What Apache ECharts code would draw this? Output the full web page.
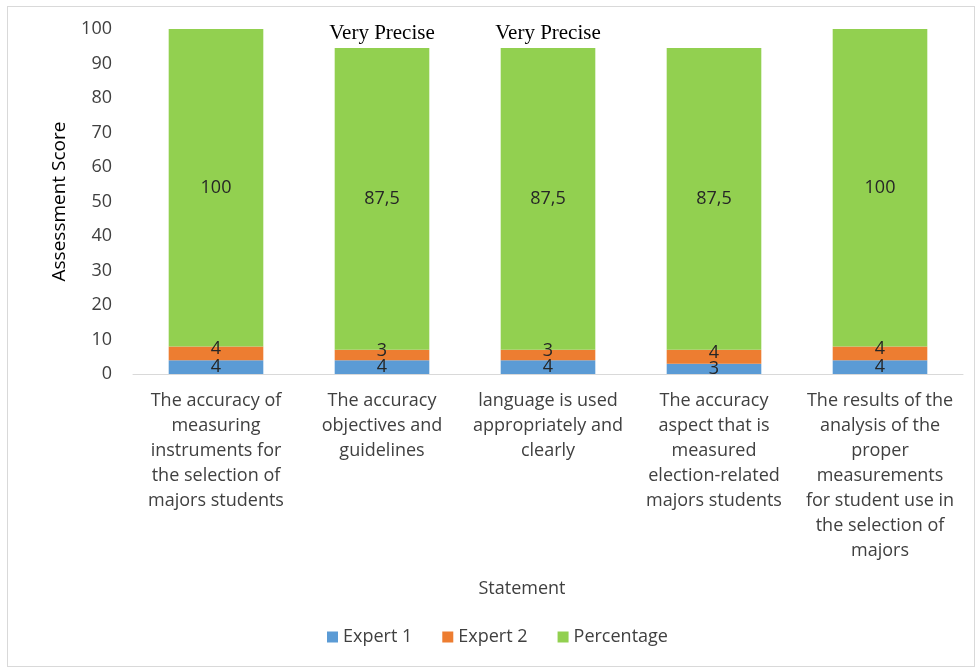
<!DOCTYPE html>
<html>
<head>
<meta charset="utf-8">
<script src="https://cdn.jsdelivr.net/npm/echarts@6/dist/echarts.min.js"></script>
<style>
html,body{margin:0;padding:0;background:#fff;}
#frame{position:absolute;left:7px;top:6px;width:968px;height:661px;border:1px solid #d9d9d9;box-sizing:border-box;}
#main{position:absolute;left:0;top:0;width:980px;height:670px;}
</style>
</head>
<body>
<div id="frame"></div>
<div id="main"></div>
<script>
const categories = [
  'The accuracy of\nmeasuring\ninstruments for\nthe selection of\nmajors students',
  'The accuracy\nobjectives and\nguidelines',
  'language is used\nappropriately and\nclearly',
  'The accuracy\naspect that is\nmeasured\nelection-related\nmajors students',
  'The results of the\nanalysis of the\nproper\nmeasurements\nfor student use in\nthe selection of\nmajors'
];
const expert1 = [4, 4, 4, 3, 4];
const expert2 = [4, 3, 3, 4, 4];
const percentage = [100, 87.5, 87.5, 87.5, 100];
const annotations = ['', 'Very Precise', 'Very Precise', '', ''];
const yTicks = { min: 0, max: 100, interval: 10 };

const FONT = 'Open Sans';
const labelStyle = {
  show: true, position: 'inside', color: '#262626', fontFamily: FONT, fontSize: 18
};
const chart = echarts.init(document.getElementById('main'));
chart.setOption({
  animation: false,
  textStyle: { fontFamily: FONT },
  grid: { left: 133, right: 17, top: 29, bottom: 296, containLabel: false },
  legend: {
    data: ['Expert 1', 'Expert 2', 'Percentage'],
    bottom: 19, left: 322,
    itemWidth: 11, itemHeight: 11, itemGap: 30, itemTextGap: 7,
    icon: 'rect',
    textStyle: { fontFamily: FONT, fontSize: 18, color: '#404040' }
  },
  xAxis: {
    type: 'category',
    data: categories,
    name: 'Statement',
    nameLocation: 'middle',
    nameGap: 206,
    nameTextStyle: { fontFamily: FONT, fontSize: 18, color: '#404040', padding: [0, 52, 0, 0] },
    axisLine: { lineStyle: { color: '#d9d9d9', width: 1 } },
    axisTick: { show: false },
    axisLabel: { interval: 0, margin: 14, color: '#404040', fontFamily: FONT, fontSize: 18, lineHeight: 25 }
  },
  yAxis: {
    type: 'value',
    min: yTicks.min, max: yTicks.max, interval: yTicks.interval,
    name: 'Assessment Score',
    nameLocation: 'middle',
    nameGap: 64,
    nameRotate: 90,
    nameTextStyle: { fontFamily: FONT, fontSize: 19, color: '#000' },
    axisLine: { show: false },
    axisTick: { show: false },
    splitLine: { show: false },
    axisLabel: { margin: 21, color: '#404040', fontFamily: FONT, fontSize: 18 }
  },
  series: [
    { name: 'Expert 1', type: 'bar', stack: 's', data: expert1, barCategoryGap: '43%',
      itemStyle: { color: '#5B9BD5' }, label: labelStyle },
    { name: 'Expert 2', type: 'bar', stack: 's', data: expert2,
      itemStyle: { color: '#ED7D31' }, label: Object.assign({}, labelStyle, { offset: [0, -4] }) },
    { name: 'Percentage', type: 'bar', stack: 's', data: percentage,
      itemStyle: { color: '#92D050' },
      label: Object.assign({}, labelStyle, { formatter: p => String(p.value).replace('.', ',') }) },
    { name: 'annot', type: 'bar', stack: 's', data: annotations.map(() => 0),
      itemStyle: { color: 'transparent' },
      label: { show: true, position: 'top', distance: 4, color: '#000', fontFamily: 'Liberation Serif', fontSize: 21,
        formatter: p => annotations[p.dataIndex] } }
  ]
});
</script>
</body>
</html>
